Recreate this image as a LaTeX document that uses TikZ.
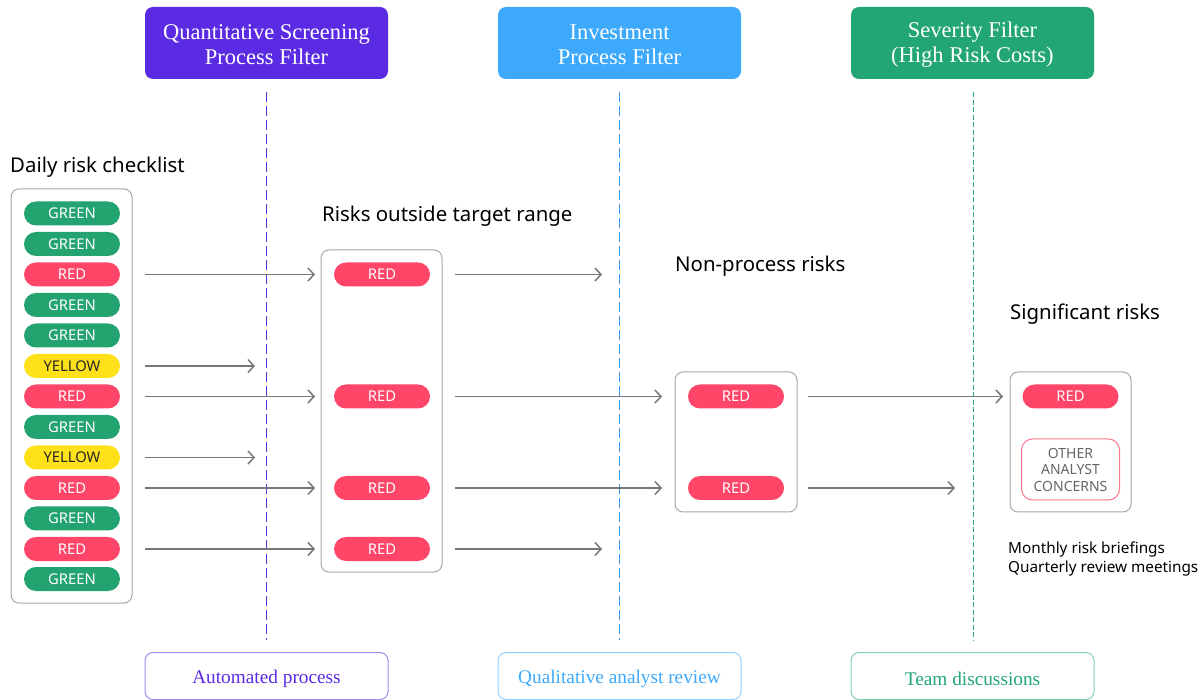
\documentclass[tikz,border=0pt]{standalone}
\usepackage{fontspec}
\usetikzlibrary{arrows.meta,calc}
\newfontfamily\uisans{Noto Sans}
\newfontfamily\uiserif{Liberation Serif}
\definecolor{qpurple}{HTML}{5A2BE3}
\definecolor{qblue}{HTML}{3DA9FC}
\definecolor{qgreen}{HTML}{22A673}
\definecolor{dpurple}{HTML}{5A2BE3}
\definecolor{dblue}{HTML}{2E96F2}
\definecolor{dgreen}{HTML}{2AAE80}
\definecolor{pgreen}{HTML}{22A36F}
\definecolor{pred}{HTML}{FF4568}
\definecolor{pyellow}{HTML}{FFE11A}
\definecolor{arrowgray}{HTML}{777777}
\definecolor{panelgray}{HTML}{A8A8A8}
\newcommand{\lowered}[1]{\raisebox{-3pt}[\height][\depth]{#1}}
\tikzset{
  x=1pt, y=-1pt,
  header/.style={rounded corners=8pt, minimum width=243pt, minimum height=72pt, inner sep=0pt},
  headertext/.style={inner sep=0pt, text=white, align=center, font=\uiserif\fontsize{22.5}{25}\selectfont},
  footer/.style={draw=#1!55, line width=1pt, rounded corners=8pt, minimum width=243pt,
    minimum height=47pt, inner sep=0pt, text=#1, font=\uiserif\fontsize{19.3}{22}\selectfont},
  guide/.style={draw=#1, line width=1.3pt},
  pill/.style={rounded corners=12pt, minimum width=96pt, minimum height=24pt,
    inner sep=0pt, text=white, font=\uisans\fontsize{14.8}{16}\selectfont},
  gpill/.style={pill, fill=pgreen},
  rpill/.style={pill, fill=pred},
  ypill/.style={pill, fill=pyellow, text=black!85},
  panel/.style={draw=panelgray, line width=1pt, rounded corners=8pt},
  caption/.style={anchor=west, inner sep=0pt, font=\uisans\fontsize{20.4}{22}\selectfont},
  note/.style={anchor=west, inner sep=0pt, font=\uisans\fontsize{15.3}{19}\selectfont, align=left},
  flow/.style={draw=arrowgray, line width=1.5pt, -{Straight Barb[length=6pt,width=13pt,line width=1.5pt]}},
}
\begin{document}
\begin{tikzpicture}
\useasboundingbox (0,0) rectangle (1203,700);

% stage headers
\node[header, fill=qpurple] (h1) at (266.5,43) {};
\node[header, fill=qblue] (h2) at (619.5,43) {};
\node[header, fill=qgreen] (h3) at (972.5,43) {};
\node[headertext] (h1t) at ($(h1.center)+(0,2)$) {Quantitative Screening\\Process Filter};
\node[headertext] (h2t) at ($(h2.center)+(0,2)$) {Investment\\Process Filter};
\node[headertext] (h3t) at ($(h3.center)+(0,2)$) {Severity Filter\\(High Risk Costs)};

% stage footers
\node[footer=qpurple] (f1) at (266.5,676) {\lowered{Automated process}};
\node[footer=qblue] (f2) at (619.5,676) {\lowered{Qualitative analyst review}};
\node[footer=qgreen] (f3) at (972.5,676) {\lowered{Team discussions}};

% dashed stage boundaries
\draw[guide=dpurple, dash pattern=on 10pt off 4pt] ($(h1.south)+(0,13)$) -- ($(f1.north)+(0,-12)$);
\draw[guide=dblue, dash pattern=on 10pt off 4pt] ($(h2.south)+(0,13)$) -- ($(f2.north)+(0,-12)$);
\draw[guide=dgreen, dash pattern=on 5pt off 2.5pt] ($(h3.south)+(1,13)$) -- ($(f3.north)+(1,-12)$);

% daily checklist
\node[caption] (cap1) at (10,167) {Daily risk checklist};
\draw[panel] (11,189) rectangle (132,603);
\coordinate (lpe) at (132,396);
\node[gpill] (c1) at (72,213.5) {GREEN};
\node[gpill] (c2) at (72,244) {GREEN};
\node[rpill] (c3) at (72,274.5) {RED};
\node[gpill] (c4) at (72,305) {GREEN};
\node[gpill] (c5) at (72,335.5) {GREEN};
\node[ypill] (c6) at (72,366) {YELLOW};
\node[rpill] (c7) at (72,396.5) {RED};
\node[gpill] (c8) at (72,427) {GREEN};
\node[ypill] (c9) at (72,457.5) {YELLOW};
\node[rpill] (c10) at (72,488) {RED};
\node[gpill] (c11) at (72,518.5) {GREEN};
\node[rpill] (c12) at (72,549) {RED};
\node[gpill] (c13) at (72,579) {GREEN};

% risks outside target range
\node[caption] (cap2) at (322,216) {Risks outside target range};
\draw[panel] (321,250) rectangle (442,572);
\coordinate (b2w) at (321,396);
\coordinate (b2e) at (442,396);
\node[rpill] (r1) at (382,274.5) {RED};
\node[rpill] (r2) at (382,396.5) {RED};
\node[rpill] (r3) at (382,488) {RED};
\node[rpill] (r4) at (382,549) {RED};

% non-process risks
\node[caption] (cap3) at (675,266) {Non-process risks};
\draw[panel] (675,372) rectangle (797,512);
\coordinate (b3w) at (675,396);
\coordinate (b3e) at (797,396);
\node[rpill] (n1) at (736,396.5) {RED};
\node[rpill] (n2) at (736,488) {RED};

% significant risks
\node[caption] (cap4) at (1010,314) {Significant risks};
\draw[panel] (1010,372) rectangle (1131,512);
\coordinate (b4w) at (1010,396);
\node[rpill] (s1) at (1070.5,396.5) {RED};
\node[draw=pred!75, line width=1pt, rounded corners=11pt, minimum width=98pt,
  minimum height=61pt, inner sep=0pt, align=center, text=black!60,
  font=\uisans\fontsize{14}{16.5}\selectfont] (s2) at (1070.5,469.5)
  {OTHER\\ANALYST\\CONCERNS};
\node[note] (notes) at (1008,559) {Monthly risk briefings\\Quarterly review meetings};

% free arrow ends
\coordinate (y1end) at (255,366);
\coordinate (y2end) at (255,457.5);
\coordinate (d1end) at (602,274.5);
\coordinate (d2end) at (602,549);
\coordinate (d3end) at (955,488);

% checklist -> stage 1
\draw[flow, shorten <=13pt, shorten >=6pt] (lpe |- c3) -- (b2w |- c3);
\draw[flow, shorten <=13pt] (lpe |- c6) -- (y1end);
\draw[flow, shorten <=13pt, shorten >=6pt] (lpe |- c7) -- (b2w |- c7);
\draw[flow, shorten <=13pt] (lpe |- c9) -- (y2end);
\draw[flow, shorten <=13pt, shorten >=6pt] (lpe |- c10) -- (b2w |- c10);
\draw[flow, shorten <=13pt, shorten >=6pt] (lpe |- c12) -- (b2w |- c12);

% stage 1 -> stage 2
\draw[flow, shorten <=13pt] (b2e |- r1) -- (d1end);
\draw[flow, shorten <=13pt, shorten >=13pt] (b2e |- r2) -- (b3w |- r2);
\draw[flow, shorten <=13pt, shorten >=13pt] (b2e |- r3) -- (b3w |- r3);
\draw[flow, shorten <=13pt] (b2e |- r4) -- (d2end);

% stage 2 -> stage 3
\draw[flow, shorten <=11pt, shorten >=7pt] (b3e |- n1) -- (b4w |- n1);
\draw[flow, shorten <=11pt] (b3e |- n2) -- (d3end);
\end{tikzpicture}
\end{document}
